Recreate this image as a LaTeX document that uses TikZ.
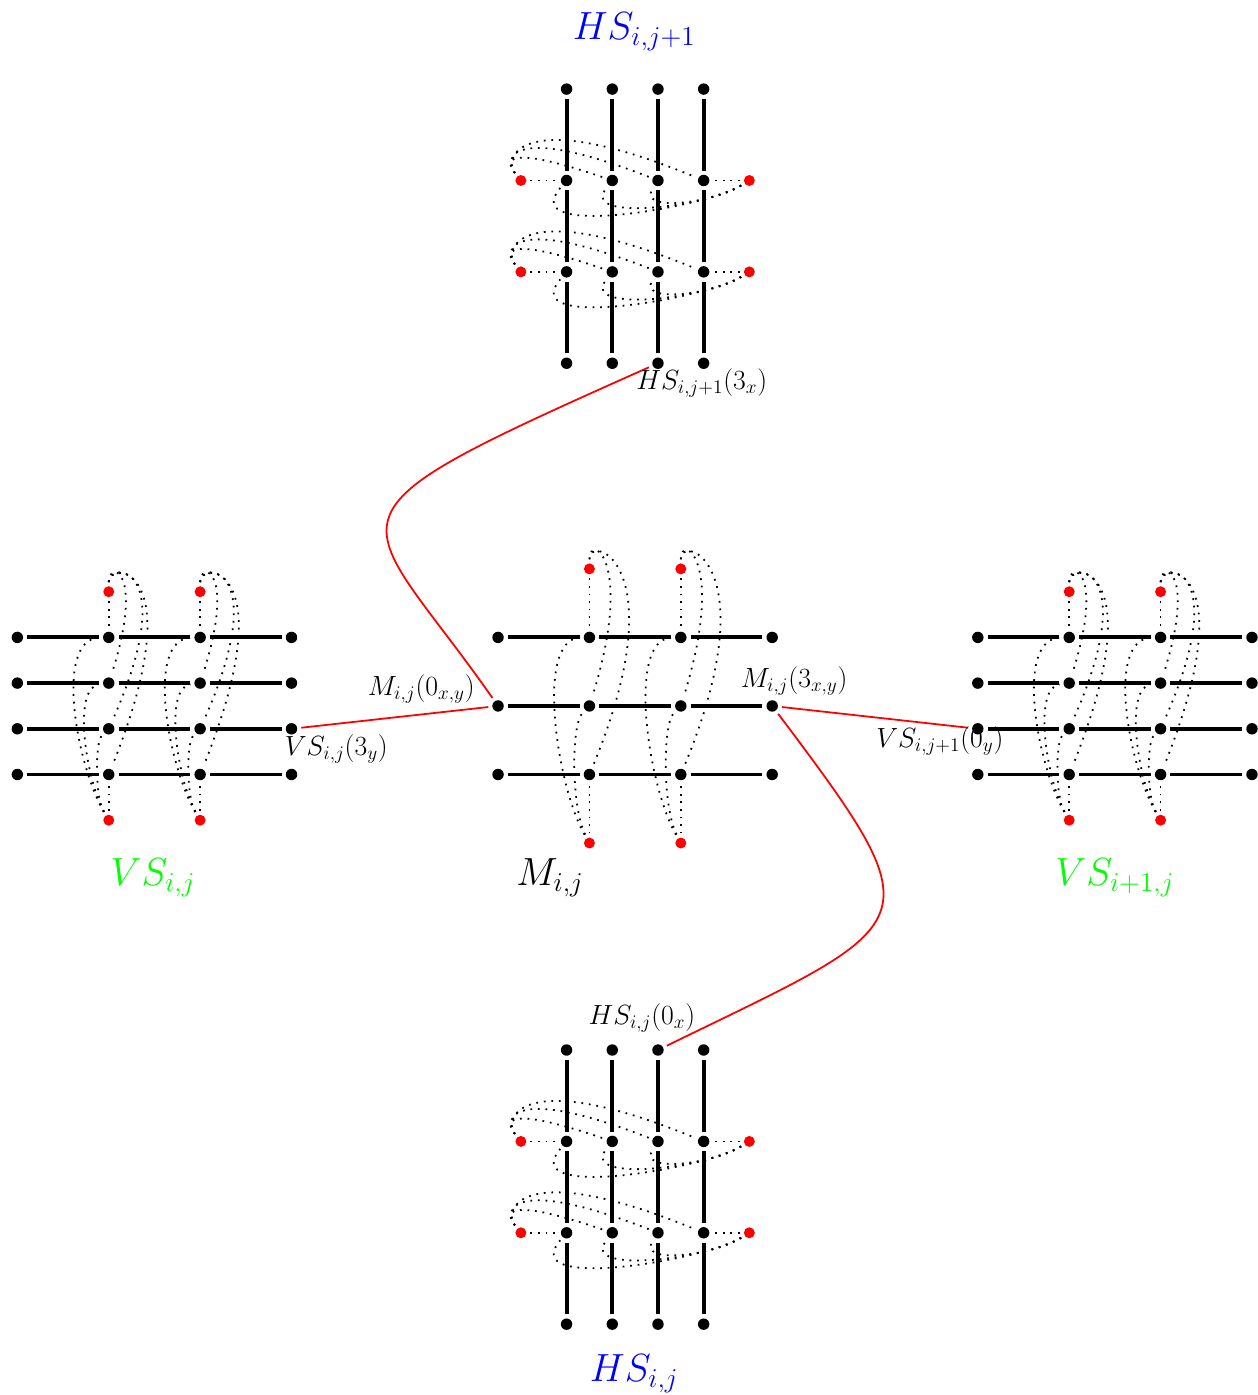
\documentclass[tikz,border=0pt]{standalone}
\tikzset{
  dot/.style = {circle, fill=black, inner sep=0pt, minimum size=.25cm, outer sep=.09cm},
  reddot/.style = {dot, fill=red, minimum size=.24cm},
  bar/.style = {line width=2.4pt},
  strand/.style = {line width=1.1pt, dash pattern=on 1.1pt off 3.6pt},
  wire/.style = {red, line width=1.1pt},
  bigname/.style = {font=\huge, scale=1.18}
}
\begin{document}
\begin{tikzpicture}
  \useasboundingbox (-10.9,15.45) rectangle (16.63,-15.08);
  % the four slices; the horizontal ones are the vertical ones turned
  \foreach \name/\gx/\gy/\rot in {vl/-7.52/0/0, vr/13.5/0/0, ht/3/10.5/90, hb/3/-10.53/90} {
    \begin{scope}[shift={(\gx,\gy)}, rotate=\rot]
      \foreach \c in {1,...,4}
        \foreach \r in {1,...,4}
          \node[dot] (\name-\c-\r) at ({2*\c-5},{2.5-\r}) {};
      \foreach \r in {1,...,4}
        \foreach \c/\d in {1/2,2/3,3/4}
          \draw[bar] (\name-\c-\r) -- (\name-\d-\r);
      \foreach \c in {2,3} {
        \node[reddot] (\name-\c-top) at ({2*\c-5},2.5) {};
        \node[reddot] (\name-\c-bot) at ({2*\c-5},-2.5) {};
        \draw[strand] (\name-\c-top) -- (\name-\c-1);
        \draw[strand] (\name-\c-bot) -- (\name-\c-4);
      }
    \end{scope}
  }
  % dotted loops of the vertical slices
  \foreach \name in {vl,vr}
    \foreach \c in {2,3} {
      \foreach \r/\ax/\ay in {2/.8/2.5, 3/1.6/3.6, 4/1.85/4.6}
        \draw[strand] (\name-\c-top) .. controls +(0,.7) and +(\ax,\ay) .. (\name-\c-\r);
      \foreach \r/\bx/\by/\ax/\ay in {3/-.3/.5/-.3/-.3, 2/-.5/.9/-.8/-.1, 1/-.7/1.2/-1.2/-.05}
        \draw[strand] (\name-\c-bot) .. controls +(\bx,\by) and +(\ax,\ay) .. (\name-\c-\r);
    }
  % dotted loops of the horizontal slices
  \foreach \name in {ht,hb}
    \foreach \c in {2,3} {
      \foreach \r/\ax/\ay in {2/-2.2/.75, 3/-3.2/1.25, 4/-4/1.65}
        \draw[strand] (\name-\c-top) .. controls +(-.4,.5) and +(\ax,\ay) .. (\name-\c-\r);
      \foreach \r/\bx/\by/\ax/\ay in {3/-.8/-.5/-.45/-.7, 2/-1/-.6/-.7/-.9, 1/-1/-.6/-1.1/-1.3}
        \draw[strand] (\name-\c-bot) .. controls +(\bx,\by) and +(\ax,\ay) .. (\name-\c-\r);
    }
  % the middle block
  \foreach \c in {1,...,4}
    \foreach \r in {1,2,3}
      \node[dot] (m-\c-\r) at ({2*\c-2},{3-1.5*\r}) {};
  \foreach \r in {1,2,3}
    \foreach \c/\d in {1/2,2/3,3/4}
      \draw[bar] (m-\c-\r) -- (m-\d-\r);
  \foreach \c in {2,3} {
    \node[reddot] (m-\c-top) at ({2*\c-2},3) {};
    \node[reddot] (m-\c-bot) at ({2*\c-2},-3) {};
    \draw[strand] (m-\c-top) -- (m-\c-1);
    \draw[strand] (m-\c-bot) -- (m-\c-3);
    \draw[strand] (m-\c-top) .. controls +(0,.8) and +(1,3.2) .. (m-\c-2);
    \draw[strand] (m-\c-top) .. controls +(0,.8) and +(1.9,4.6) .. (m-\c-3);
    \draw[strand] (m-\c-bot) .. controls +(-.4,.8) and +(-.4,-.4) .. (m-\c-2);
    \draw[strand] (m-\c-bot) .. controls +(-.7,1.2) and +(-1.2,-.05) .. (m-\c-1);
  }
  % links
  \draw[wire] (vl-4-3) -- (m-1-2);
  \draw[wire] (m-4-2) -- (vr-1-3);
  \draw[wire] (ht-1-3) .. controls +(204:8.6) and +(125:5.4) .. (m-1-2);
  \draw[wire] (m-4-2) .. controls +(-53:6.1) and +(26:6.5) .. (hb-4-3);
  % names
  \node[blue, bigname] (nameht) at (2.98,14.75) {$HS_{i,j+1}$};
  \node[blue, bigname] (namehb) at (2.98,-14.62) {$HS_{i,j}$};
  \node[green, bigname] (namevl) at (-7.55,-3.76) {$VS_{i,j}$};
  \node[green, bigname] (namevr) at (13.5,-3.76) {$VS_{i+1,j}$};
  \node[bigname] (namem) at (1.14,-3.76) {$M_{i,j}$};
  \node[font=\LARGE] (pm0) at (-1.68,.37) {$M_{i,j}(0_{x,y})$};
  \node[font=\LARGE] (pm3) at (6.48,.55) {$M_{i,j}(3_{x,y})$};
  \node[font=\LARGE] (pvl) at (-3.54,-.94) {$VS_{i,j}(3_y)$};
  \node[font=\LARGE] (pvr) at (9.67,-.77) {$VS_{i,j+1}(0_y)$};
  \node[font=\LARGE] (pht) at (4.46,7.07) {$HS_{i,j+1}(3_x)$};
  \node[font=\LARGE] (phb) at (3.15,-6.83) {$HS_{i,j}(0_x)$};
\end{tikzpicture}
\end{document}
